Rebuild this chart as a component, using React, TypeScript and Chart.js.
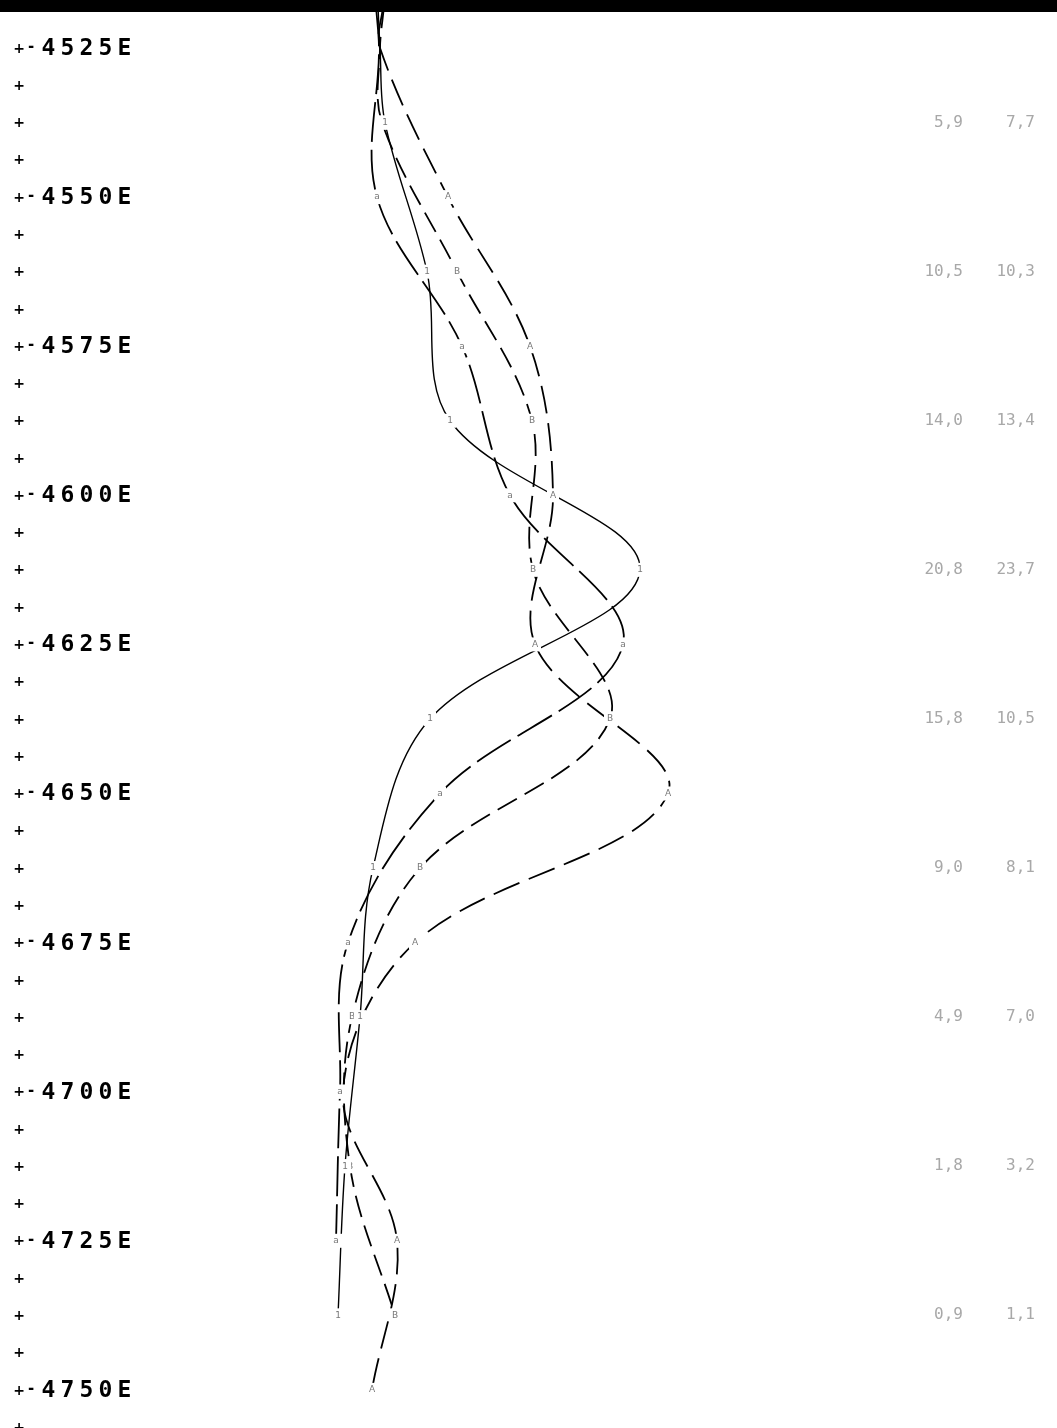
import React, { useEffect, useRef } from "react";
import { Chart, registerables } from "chart.js";
Chart.register(...registerables);

// Depths (sample rows). Even rows: every 25 E; odd rows: midway.
const evenDepths = [4518, 4525, 4550, 4575, 4600, 4625, 4650, 4675, 4700, 4725, 4750];
const oddDepths = [4518, 4525, 4537.5, 4562.5, 4587.5, 4612.5, 4637.5, 4662.5, 4687.5, 4712.5, 4737.5];

// Horizontal readings of the four traced curves
const seriesP = [18.3, 18.0, 24.8, 33.0, 35.3, 33.5, 46.8, 21.5, 14.3, 19.7, 17.2];
const seriesR = [17.6, 17.9, 17.7, 26.2, 31.0, 42.3, 24.0, 14.8, 14.0, 13.6];
const seriesQ = [18.4, 18.0, 18.2, 25.7, 33.2, 33.3, 41.0, 22.0, 15.2, 15.0, 19.5];
const seriesS = [17.8, 18.0, 18.5, 22.7, 25.0, 44.0, 23.0, 17.3, 16.0, 14.5, 13.8];

// Axis ticks
const majorTicks = [4525, 4550, 4575, 4600, 4625, 4650, 4675, 4700, 4725, 4750];
const minorStep = 6.25;

// Right-hand value columns
const rowDepths = [4537.5, 4562.5, 4587.5, 4612.5, 4637.5, 4662.5, 4687.5, 4712.5, 4737.5];
const colA = ["5,9", "10,5", "14,0", "20,8", "15,8", "9,0", "4,9", "1,8", "0,9"];
const colB = ["7,7", "10,3", "13,4", "23,7", "10,5", "8,1", "7,0", "3,2", "1,1"];

const W = 1057;
const H = 1428;

const zip = (xs: number[], ys: number[]) => xs.map((x, i) => ({ x, y: ys[i] }));

const axisPlugin = {
  id: "printerAxis",
  afterDraw(chart: any) {
    const ctx = chart.ctx;
    const ys = chart.scales.y;
    ctx.save();
    ctx.fillStyle = "#000";
    ctx.textAlign = "center";
    ctx.textBaseline = "middle";
    for (let v = 4525; v <= 4757; v += minorStep) {
      const py = ys.getPixelForValue(v);
      ctx.font = "bold 14px 'DejaVu Sans'";
      ctx.fillText("+", 19, py + 1);
    }
    majorTicks.forEach((t) => {
      const py = ys.getPixelForValue(t);
      ctx.font = "bold 15px 'DejaVu Sans'";
      ctx.fillText("-", 31, py - 1);
      const s = String(t) + "E";
      ctx.font = "bold 23px 'DejaVu Sans Mono'";
      for (let i = 0; i < s.length; i++) {
        ctx.fillText(s[i], 48.5 + i * 19, py + 1);
      }
    });
    // right columns
    ctx.fillStyle = "#a8a8a8";
    ctx.font = "16px 'DejaVu Sans Mono'";
    ctx.textAlign = "right";
    rowDepths.forEach((d, i) => {
      const py = ys.getPixelForValue(d);
      ctx.fillText(colA[i], 963, py);
      ctx.fillText(colB[i], 1035, py);
    });
    // top scan band
    ctx.fillStyle = "#000";
    ctx.fillRect(0, 0, W, 12);
    ctx.restore();
  },
};

const tagPlugin = {
  id: "pointTags",
  afterDatasetsDraw(chart: any) {
    const ctx = chart.ctx;
    ctx.save();
    chart.data.datasets.forEach((ds: any, i: number) => {
      const meta = chart.getDatasetMeta(i);
      meta.data.forEach((pt: any, j: number) => {
        const d = ds.data[j];
        if (d.y < 4530) return;
        ctx.fillStyle = "#fff";
        ctx.fillRect(pt.x - 6, pt.y - 7, 12, 14);
        ctx.fillStyle = "#777";
        ctx.font = "9px 'DejaVu Sans'";
        ctx.textAlign = "center";
        ctx.textBaseline = "middle";
        ctx.fillText(ds.tag, pt.x, pt.y);
      });
    });
    ctx.restore();
  },
};

export default function App() {
  const ref = useRef<HTMLCanvasElement | null>(null);
  useEffect(() => {
    if (!ref.current) return;
    const common = {
      borderColor: "#000",
      borderWidth: 1.8,
      pointRadius: 0,
      fill: false,
      tension: 0.35,
    };
    const chart = new Chart(ref.current, {
      type: "line",
      data: {
        datasets: [
          { ...common, label: "P", tag: "A", data: zip(seriesP, evenDepths), borderDash: [28, 10] } as any,
          { ...common, label: "R", tag: "a", data: zip(seriesR, evenDepths.slice(0, seriesR.length)), borderDash: [40, 8] } as any,
          { ...common, label: "Q", tag: "B", data: zip(seriesQ, oddDepths), borderDash: [22, 9] } as any,
          { ...common, label: "S", tag: "1", data: zip(seriesS, oddDepths), borderWidth: 1.4 } as any,
        ],
      },
      options: {
        animation: false,
        responsive: false,
        devicePixelRatio: 1,
        layout: { padding: 0 },
        plugins: { legend: { display: false }, tooltip: { enabled: false } },
        scales: {
          x: { type: "linear", min: -20, max: 85.7, display: false },
          y: { type: "linear", reverse: true, min: 4516.95, max: 4756.39, display: false },
        },
      },
      plugins: [tagPlugin, axisPlugin],
    });
    return () => chart.destroy();
  }, []);
  return (
    <div style={{ position: "absolute", left: 0, top: 0, width: W, height: H, background: "#fff" }}>
      <canvas ref={ref} width={W} height={H} style={{ display: "block" }} />
    </div>
  );
}
